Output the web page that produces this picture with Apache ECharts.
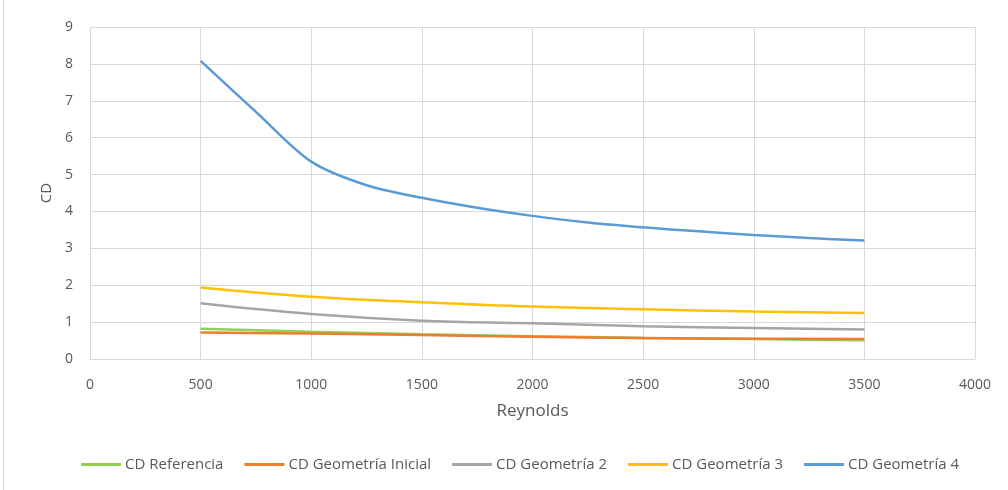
<!DOCTYPE html>
<html><head><meta charset="utf-8">
<script src="https://cdn.jsdelivr.net/npm/echarts@6/dist/echarts.min.js"></script>
<style>html,body{margin:0;padding:0;background:#fff}#c{width:1008px;height:490px}</style>
</head><body><div id="c"></div>
<script>
const reynolds = [500, 1000, 1500, 2000, 2500, 3000, 3500];
const cdReferencia = [0.82, 0.74, 0.67, 0.62, 0.57, 0.54, 0.51];
const cdInicial = [0.72, 0.69, 0.65, 0.60, 0.57, 0.55, 0.54];
const cdGeom2 = [1.51, 1.22, 1.04, 0.97, 0.89, 0.84, 0.80];
const cdGeom3 = [1.94, 1.69, 1.54, 1.42, 1.35, 1.29, 1.25];
const reynoldsGeom4 = [500, 750, 1000, 1250, 1500, 1750, 2000, 2250, 2500, 2750, 3000, 3250, 3500];
const cdGeom4 = [8.08, 6.70, 5.35, 4.71, 4.37, 4.10, 3.88, 3.70, 3.57, 3.46, 3.36, 3.28, 3.21];
const seriesNames = ['CD Referencia', 'CD Geometría Inicial', 'CD Geometría 2', 'CD Geometría 3', 'CD Geometría 4'];
const colors = ['#92d050', '#ed7d31', '#a5a5a5', '#ffc000', '#5b9bd5'];
const allX = [reynolds, reynolds, reynolds, reynolds, reynoldsGeom4];
const allData = [cdReferencia, cdInicial, cdGeom2, cdGeom3, cdGeom4];
const smoothness = [0.4, 0.4, 0.4, 0.4, 0.3];
const font = '"Open Sans", sans-serif';

const chart = echarts.init(document.getElementById('c'));
chart.setOption({
  animation: false,
  color: colors,
  graphic: [{type: 'line', shape: {x1: 3.5, y1: 0, x2: 3.5, y2: 490}, style: {stroke: '#d9d9d9', lineWidth: 1}}],
  grid: {left: 90, right: 33, top: 27, bottom: 131, containLabel: false},
  xAxis: {
    type: 'value', min: 0, max: 4000, interval: 500,
    name: 'Reynolds', nameLocation: 'middle', nameGap: 44,
    nameTextStyle: {fontFamily: font, fontSize: 17, color: '#595959'},
    axisLine: {show: true, lineStyle: {color: '#d9d9d9', width: 1}},
    axisTick: {show: false},
    axisLabel: {fontFamily: font, fontSize: 14, color: '#595959', margin: 19, formatter: v => String(v)},
    splitLine: {show: true, lineStyle: {color: '#d9d9d9', width: 1}}
  },
  yAxis: {
    type: 'value', min: 0, max: 9, interval: 1,
    name: 'CD', nameLocation: 'middle', nameGap: 35, nameRotate: 90,
    nameTextStyle: {fontFamily: font, fontSize: 15, color: '#595959'},
    axisLine: {show: false}, axisTick: {show: false},
    axisLabel: {fontFamily: font, fontSize: 14, color: '#595959', margin: 17},
    splitLine: {show: true, lineStyle: {color: '#d9d9d9', width: 1}}
  },
  legend: {
    bottom: 13, left: 76, itemWidth: 40, itemHeight: 3, itemGap: 21,
    icon: 'rect',
    textStyle: {fontFamily: font, fontSize: 15, color: '#595959', padding: [0, 0, 0, -1]},
    data: seriesNames
  },
  series: seriesNames.map((n, i) => ({
    name: n, type: 'line', smooth: smoothness[i], symbol: 'none',
    lineStyle: {width: 2.5, color: colors[i]},
    data: allX[i].map((x, j) => [x, allData[i][j]])
  }))
});
</script></body></html>
